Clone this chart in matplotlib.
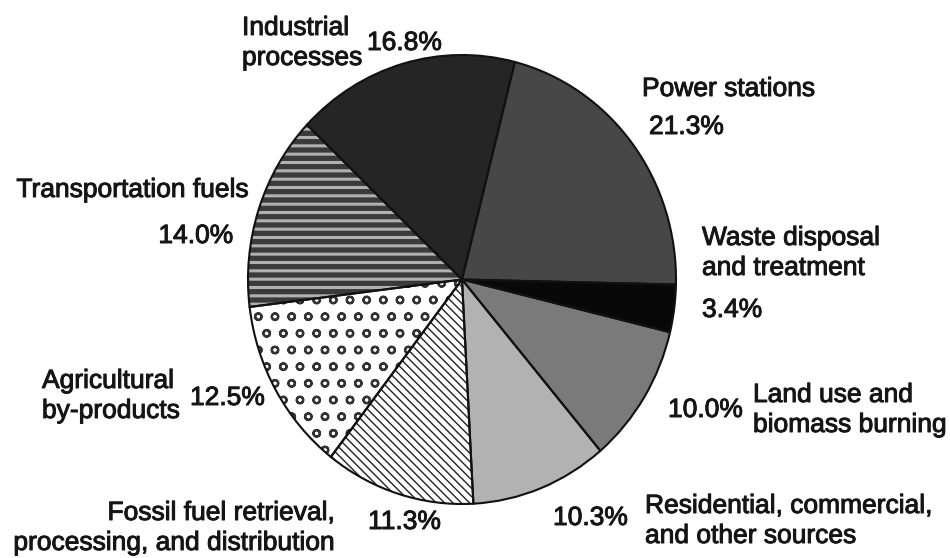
import matplotlib
matplotlib.use("Agg")
import matplotlib.pyplot as plt
import matplotlib.patheffects as pe

# ---- data ----
categories = ["Power stations", "Waste disposal and treatment",
              "Land use and biomass burning",
              "Residential, commercial, and other sources",
              "Fossil fuel retrieval, processing, and distribution",
              "Agricultural by-products", "Transportation fuels",
              "Industrial processes"]
values = [21.3, 3.4, 10.0, 10.3, 11.3, 12.5, 14.0, 16.8]
label_lines = [["Power stations"],
               ["Waste disposal", "and treatment"],
               ["Land use and", "biomass burning"],
               ["Residential, commercial,", "and other sources"],
               ["Fossil fuel retrieval,", "processing, and distribution"],
               ["Agricultural", "by-products"],
               ["Transportation fuels"],
               ["Industrial", "processes"]]

# ---- styles ----
faces = ["#474747", "#080808", "#7a7a7a", "#b2b2b2",
         "#ffffff", "#ffffff", "#3a3a3a", "#252525"]
hatches = [None, None, None, None, "\\\\\\\\", "o", "--", None]
hatch_cols = [None, None, None, None, "#222222", "#333333", "#b0b0b0", None]
hatch_lw = [None, None, None, None, 1.0, 1.6, 2.2, None]

# label layout (pixel coords, y from top)
name_pos = [(642, 96, "left"), (702, 245, "left"), (753, 402, "left"),
            (645, 513, "left"), (335, 520, "right"), (42, 388, "left"),
            (249, 197, "right"), (242, 35, "left")]
pct_pos = [(649, 134, "left"), (702, 317, "left"), (668, 417, "left"),
           (553, 525, "left"), (368, 529, "left"), (190, 405, "left"),
           (233, 243, "right"), (367, 50, "left")]
line_gap = 30

W, H = 950, 558
plt.rcParams["hatch.linewidth"] = 1.0
fig = plt.figure(figsize=(W / 100, H / 100), dpi=100)
fig.patch.set_facecolor("white")

ax = fig.add_axes([248 / W, (H - 504) / H, 428 / W, 449 / H])
start = 75.7
wedges, _ = ax.pie(values, startangle=start, counterclock=False, colors=faces,
                   wedgeprops=dict(linewidth=0))
for w, h, hc, hl in zip(wedges, hatches, hatch_cols, hatch_lw):
    if h:
        w.set_edgecolor(hc)
        w.set_hatch(h)
        if hasattr(w, "set_hatch_linewidth"):
            w.set_hatch_linewidth(hl)
ax.pie(values, startangle=start, counterclock=False,
       colors=["none"] * len(values),
       wedgeprops=dict(edgecolor="#111111", linewidth=1.5, fill=False))
ax.set_aspect("auto")
ax.set_xlim(-1, 1)
ax.set_ylim(-1, 1)
ax.axis("off")

font = dict(family=["Liberation Sans", "DejaVu Sans"], size=19, color="#151515",
            path_effects=[pe.withStroke(linewidth=0.7, foreground="#151515")])
for lines, (nx, ny, nha), (px, py, pha), v in zip(label_lines, name_pos, pct_pos, values):
    for i, ln in enumerate(lines):
        fig.text(nx / W, 1 - (ny + i * line_gap) / H, ln, ha=nha, va="baseline", **font)
    fig.text(px / W, 1 - py / H, f"{v:.1f}%", ha=pha, va="baseline", **font)

fig.savefig("out.png", dpi=100, facecolor="white")
